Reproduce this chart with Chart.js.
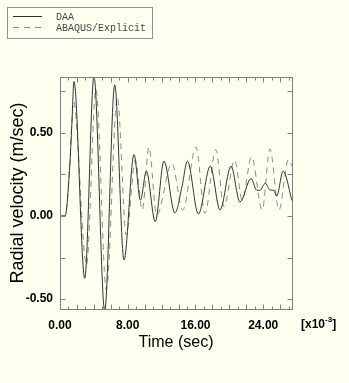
<!DOCTYPE html>
<html><head><meta charset="utf-8">
<script src="https://cdn.jsdelivr.net/npm/chart.js@4/dist/chart.umd.min.js"></script>
<style>html,body{margin:0;padding:0;background:#fffff0;}canvas{display:block;}</style>
</head><body>
<canvas id="c" width="349" height="383"></canvas>
<script>
// Series values (time in 1e-3 s, velocity in m/s)
const daaTime = [0, 0.6, 1.15, 1.4, 1.65, 2.92, 4.01, 5.28, 6.46, 7.56, 8.74, 9.5, 10.2, 11.25, 12.28, 13.58, 14.4, 15.05, 16.35, 17.75, 18.9, 20.2, 21.25, 22.57, 23.2, 23.6, 24.24, 24.8, 25.27, 25.6, 26.35, 27.4];
const daaVel  = [0, 0, 0.30, 0.55, 0.81, -0.375, 0.84, -0.57, 0.79, -0.265, 0.37, 0.096, 0.27, -0.034, 0.33, 0.018, 0.175, 0.33, 0.012, 0.30, 0.036, 0.30, 0.084, 0.226, 0.157, 0.154, 0.197, 0.157, 0.154, 0.12, 0.27, 0.093];
const abaqusTime = [0, 0.6, 1.15, 1.4, 1.6, 3.13, 4.25, 5.47, 6.77, 7.83, 8.9, 9.72, 10.5, 11.42, 13.22, 14.49, 16.06, 17.12, 18.4, 19.36, 20.63, 21.52, 22.63, 23.88, 24.79, 25.86, 26.98, 27.4];
const abaqusVel  = [0, 0, 0.30, 0.57, 0.69, -0.295, 0.765, -0.445, 0.715, -0.115, 0.337, 0.036, 0.415, 0.006, 0.317, 0.036, 0.415, 0.016, 0.40, 0.056, 0.337, 0.096, 0.357, 0.036, 0.404, 0.036, 0.34, 0.30];
const seriesLabels = ['DAA', 'ABAQUS/Explicit'];
const xTickValues = [0, 8, 16, 24];
const yTickValues = [-0.5, 0, 0.5];
const xTitle = 'Time (sec)';
const yTitle = 'Radial velocity (m/sec)';
const xExponent = ['[x10', '-3', ']'];

const toPoints = (t, v) => t.map((x, i) => ({x: x, y: v[i]}));
const SANS = '"Liberation Sans", Arial, Helvetica, sans-serif';

const bgPlugin = {
  id: 'bg',
  beforeDraw(chart) {
    const ctx = chart.ctx;
    ctx.save(); ctx.fillStyle = '#fffff0'; ctx.fillRect(0, 0, chart.width, chart.height); ctx.restore();
  }
};

const framePlugin = {
  id: 'frame',
  afterDatasetsDraw(chart) {
    const {ctx, chartArea: a, scales: {x, y}} = chart;
    ctx.save();
    ctx.strokeStyle = '#808080';
    ctx.lineWidth = 1;
    const L = Math.round(a.left) + 0.5, R = Math.round(a.right) + 0.5;
    const T = Math.round(a.top) + 0.5, B = Math.round(a.bottom) + 0.5;
    ctx.strokeRect(L, T, R - L, B - T);
    ctx.beginPath();
    for (let v = 1; v < x.max; v += 1) {
      const px = Math.round(x.getPixelForValue(v)) + 0.5;
      const len = (v % 2 === 0) ? 5 : 3;
      ctx.moveTo(px, B); ctx.lineTo(px, B - len);
      ctx.moveTo(px, T); ctx.lineTo(px, T + len);
    }
    for (let v = -0.5; v <= y.max; v += 0.25) {
      const py = Math.round(y.getPixelForValue(v)) + 0.5;
      ctx.moveTo(L, py); ctx.lineTo(L + 5, py);
      ctx.moveTo(R, py); ctx.lineTo(R - 5, py);
    }
    ctx.stroke();
    ctx.restore();
  }
};

const annotPlugin = {
  id: 'annot',
  afterDraw(chart) {
    const ctx = chart.ctx;
    ctx.save();
    // legend
    ctx.strokeStyle = '#909090'; ctx.lineWidth = 1;
    ctx.strokeRect(7.5, 7.5, 145, 31);
    chart.data.datasets.forEach((ds, i) => {
      const yy = 16.5 + i * 11;
      ctx.beginPath();
      ctx.setLineDash(ds.borderDash || []);
      ctx.strokeStyle = ds.borderColor; ctx.lineWidth = 1;
      ctx.moveTo(13, yy); ctx.lineTo(42, yy); ctx.stroke();
      ctx.setLineDash([]);
      ctx.fillStyle = '#444';
      ctx.font = '10px "Liberation Mono", "DejaVu Sans Mono", monospace';
      ctx.textBaseline = 'middle'; ctx.textAlign = 'left';
      ctx.fillText(ds.label, 56, yy + 0.5);
    });
    // x exponent
    ctx.fillStyle = '#000';
    ctx.textBaseline = 'middle';
    ctx.font = 'bold 12px ' + SANS;
    let xx = 301;
    ctx.fillText(xExponent[0], xx, 325);
    xx += ctx.measureText(xExponent[0]).width;
    ctx.font = 'bold 8px ' + SANS;
    ctx.fillText(xExponent[1], xx, 320);
    xx += ctx.measureText(xExponent[1]).width;
    ctx.font = 'bold 12px ' + SANS;
    ctx.fillText(xExponent[2], xx, 325);
    ctx.restore();
  }
};

new Chart(document.getElementById('c'), {
  type: 'line',
  data: {
    datasets: [
      {label: seriesLabels[0], data: toPoints(daaTime, daaVel), borderColor: '#333333', borderWidth: 1, pointRadius: 0, fill: false, cubicInterpolationMode: 'monotone'},
      {label: seriesLabels[1], data: toPoints(abaqusTime, abaqusVel), borderColor: '#8a8a8a', borderWidth: 1, borderDash: [6, 5], pointRadius: 0, fill: false, cubicInterpolationMode: 'monotone'}
    ]
  },
  options: {
    responsive: false,
    animation: false,
    devicePixelRatio: 1,
    layout: {padding: {top: 77, right: 57, bottom: 0, left: 0}},
    plugins: {legend: {display: false}, tooltip: {enabled: false}},
    scales: {
      x: {
        type: 'linear', min: 0, max: 27.4,
        afterBuildTicks: s => { s.ticks = xTickValues.map(v => ({value: v})); },
        afterFit: s => { s.height = 74; },
        grid: {display: false, drawTicks: false},
        border: {display: false},
        ticks: {padding: 9, color: '#000', autoSkip: false, maxRotation: 0,
          font: {family: SANS, size: 12, weight: 'bold'}, callback: v => Number(v).toFixed(2)},
        title: {display: true, text: xTitle, color: '#000', font: {family: SANS, size: 16}, padding: {top: 0, bottom: 31}}
      },
      y: {
        type: 'linear', min: -0.56, max: 0.837,
        afterBuildTicks: s => { s.ticks = yTickValues.map(v => ({value: v})); },
        afterFit: s => { s.width = 60; },
        grid: {display: false, drawTicks: false},
        border: {display: false},
        ticks: {padding: 7, color: '#000', autoSkip: false,
          font: {family: SANS, size: 12, weight: 'bold'}, callback: v => Number(v).toFixed(2)},
        title: {display: true, text: yTitle, color: '#000', font: {family: SANS, size: 18}, padding: {top: 7, bottom: 0}}
      }
    }
  },
  plugins: [bgPlugin, framePlugin, annotPlugin]
});
</script>
</body></html>
